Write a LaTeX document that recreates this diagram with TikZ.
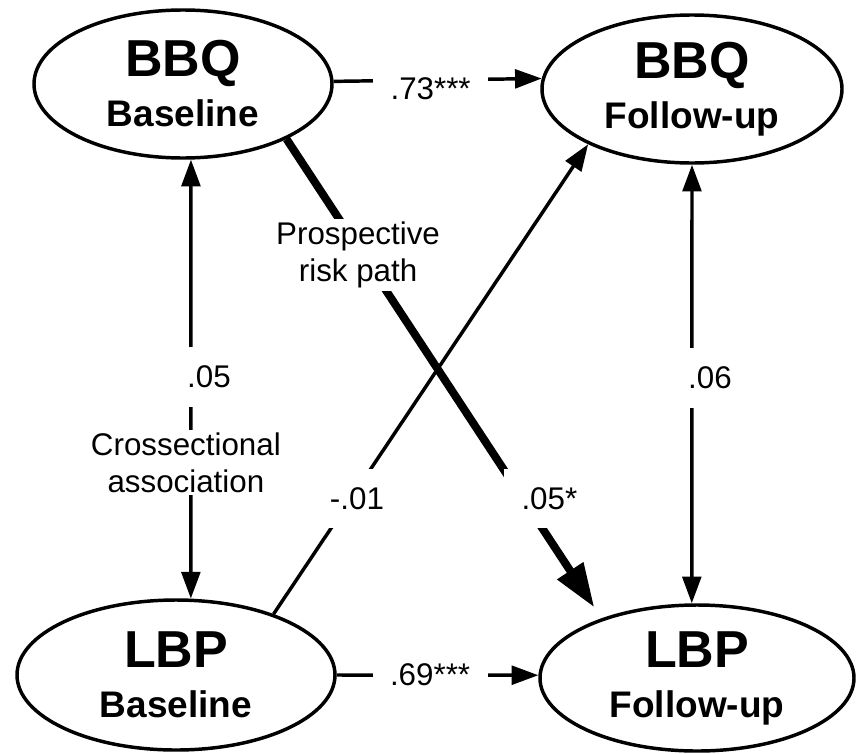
\documentclass[tikz,border=0pt]{standalone}
\usepackage{fontspec}
\setmainfont{Liberation Sans}
\usetikzlibrary{arrows.meta, shapes.geometric}

\begin{document}
\begin{tikzpicture}[x=0.75pt, y=-0.75pt,
  >={Triangle[length=20pt, width=14pt]},
  var/.style={
    ellipse, draw, line width=2.6pt, inner sep=0pt, align=center,
    font=\bfseries\fontsize{27.75}{37.5}\selectfont
  },
  coef/.style={fill=white, inner xsep=13pt, inner ysep=14pt,
    font=\fontsize{23.5}{28}\selectfont},
  note/.style={fill=white, align=center, inner sep=2pt,
    font=\fontsize{23.5}{28}\selectfont},
  link/.style={line width=2.6pt, ->},
  both/.style={line width=2.6pt, <->},
  risk/.style={line width=6pt, -{Triangle[length=33pt, width=22pt]}}]
\useasboundingbox (0,0) rectangle (856,753);
\node[var, minimum width=223.5pt, minimum height=111pt] (bbqb) at (183,84)
  {\fontsize{39}{39}\selectfont BBQ\\Baseline};
\node[var, minimum width=225pt, minimum height=111pt] (bbqf) at (692,89)
  {\fontsize{39}{39}\selectfont BBQ\\Follow-up};
\node[var, minimum width=238.5pt, minimum height=112.5pt] (lbpb) at (176,675)
  {\fontsize{39}{39}\selectfont LBP\\Baseline};
\node[var, minimum width=235.5pt, minimum height=109.5pt] (lbpf) at (697,678)
  {\fontsize{39}{39}\selectfont LBP\\Follow-up};
\draw[link] (bbqb.1.5) -- node[coef, pos=.466, yshift=-6.75pt] {.73***} (bbqf.176.6);
\draw[link] (lbpb.-0.7) -- node[coef, pos=.463] {.69***} (lbpf.179.6);
\draw[both] (bbqb.-84) -- node[coef, pos=.495, xshift=13.5pt] {.05}
  node[note, pos=.69, xshift=-3.75pt] {Crossectional\\association} (lbpb.79);
\draw[both] (bbqf.-90) -- node[coef, pos=.486, xshift=13.5pt] {.06} (lbpf.94.6);
\draw[link] (lbpb.32) -- node[coef, pos=.246, xshift=4.5pt] {-.01} (bbqf.208);
\draw[risk, shorten >=9.75pt] (bbqb.-28)
  -- node[note, pos=.242, xshift=-3.5pt] {Prospective\\risk path}
  node[coef, pos=.75, xshift=20pt] {.05*} (lbpf.148);
\end{tikzpicture}
\end{document}
